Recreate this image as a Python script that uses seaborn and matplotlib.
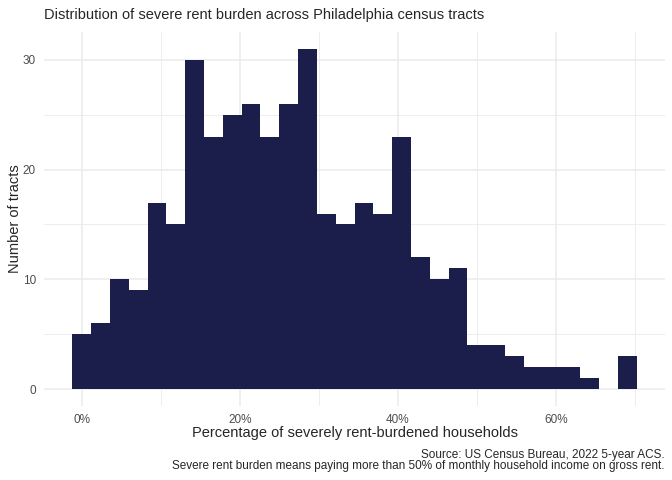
import numpy as np
import pandas as pd
import seaborn as sns
import matplotlib.pyplot as plt
from matplotlib.ticker import FixedLocator, FuncFormatter

# counts per bin (30 bins, ~2.38 pct points wide)
bin_lo = -1.19
bin_hi = 70.19
counts = [5, 6, 10, 9, 17, 15, 30, 23, 25, 26, 23, 26, 31, 16, 15,
          17, 16, 23, 12, 10, 11, 4, 4, 3, 2, 2, 2, 1, 0, 3]

edges = np.linspace(bin_lo, bin_hi, len(counts) + 1)
centers = (edges[:-1] + edges[1:]) / 2
df = pd.DataFrame({"pct": centers, "n": counts})

x_major = [0, 20, 40, 60]
x_minor = [10, 30, 50, 70]
y_major = [0, 10, 20, 30]
y_minor = [5, 15, 25]

title = "Distribution of severe rent burden across Philadelphia census tracts"
caption = ["Source: US Census Bureau, 2022 5-year ACS.",
           "Severe rent burden means paying more than 50% of monthly household income on gross rent."]

sns.set_style("white")
plt.rcParams["font.family"] = ["Liberation Sans", "DejaVu Sans"]

W, H = 672, 480
fig = plt.figure(figsize=(W / 72, H / 72), dpi=72)
# panel from x=44..665, y=32..406 (pixels)
ax = fig.add_axes([44 / W, (H - 406) / H, 621 / W, 374 / H])

sns.histplot(data=df, x="pct", weights="n", bins=edges.tolist(), color="#1b1d4a",
             alpha=1, linewidth=0, edgecolor="none", ax=ax, zorder=3)

ax.set_xlim(-4.77, 73.77)
ax.set_ylim(-1.55, 32.55)

ax.xaxis.set_major_locator(FixedLocator(x_major))
ax.xaxis.set_minor_locator(FixedLocator(x_minor))
ax.yaxis.set_major_locator(FixedLocator(y_major))
ax.yaxis.set_minor_locator(FixedLocator(y_minor))
ax.xaxis.set_major_formatter(FuncFormatter(lambda v, p: f"{v:.0f}%"))

ax.grid(which="major", color="#ebebeb", linewidth=1.5, zorder=0)
ax.grid(which="minor", color="#ebebeb", linewidth=0.9, zorder=0)
ax.set_axisbelow(True)
for s in ax.spines.values():
    s.set_visible(False)
ax.tick_params(which="both", length=0)
ax.tick_params(axis="both", labelsize=11.7, labelcolor="#4d4d4d")
ax.tick_params(axis="x", pad=8)
ax.tick_params(axis="y", pad=8)

ax.set_xlabel("Percentage of severely rent-burdened households", fontsize=14.67, va="baseline")
ax.xaxis.set_label_coords(0.5, -(436.7 - 406) / 374)
ax.set_ylabel("Number of tracts", fontsize=14.67, va="baseline")
ax.yaxis.set_label_coords(-(44 - 19.5) / 621, 0.5)

fig.text(44 / W, 1 - 19.5 / H, title, fontsize=14.67, ha="left", va="baseline")
fig.text(665 / W, 1 - 457.7 / H, caption[0], fontsize=11.73, ha="right", va="baseline")
fig.text(665 / W, 1 - 468.7 / H, caption[1], fontsize=11.73, ha="right", va="baseline")

fig.savefig("out.png", dpi=72)
